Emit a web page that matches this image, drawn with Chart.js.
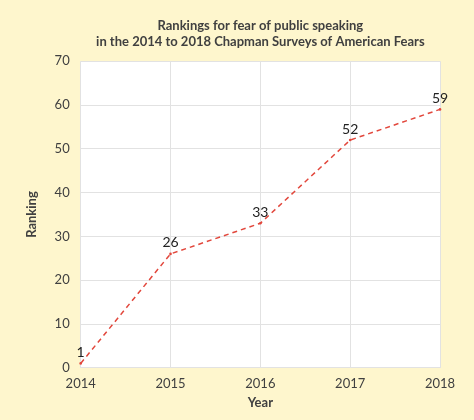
<!DOCTYPE html>
<html><head><meta charset="utf-8">
<script src="https://cdn.jsdelivr.net/npm/chart.js@4/dist/chart.umd.min.js"></script>
<style>html,body{margin:0;padding:0;background:#FEF6CD;}#wrap{width:474px;height:420px;}</style>
</head><body><div id="wrap"><canvas id="c" width="474" height="420"></canvas></div>
<script>
const years = ['2014','2015','2016','2017','2018'];
const rankings = [1, 26, 33, 52, 59];
const yTicks = [0,10,20,30,40,50,60,70];
const titleLines = ['Rankings for fear of public speaking','in the 2014 to 2018 Chapman Surveys of American Fears'];

const bgPlugin = {
  id:'bg',
  beforeDraw(chart){
    const {ctx, chartArea:a} = chart;
    ctx.save();
    ctx.fillStyle='#FEF6CD';
    ctx.fillRect(0,0,chart.width,chart.height);
    ctx.fillStyle='#FFFFFF';
    ctx.fillRect(a.left,a.top,a.right-a.left,a.bottom-a.top);
    ctx.restore();
  }
};
const labelPlugin = {
  id:'labels',
  afterDatasetsDraw(chart){
    const {ctx} = chart;
    const meta = chart.getDatasetMeta(0);
    ctx.save();
    ctx.font='14px Lato';
    ctx.fillStyle='#222222';
    ctx.textAlign='center';
    ctx.textBaseline='bottom';
    meta.data.forEach((p,i)=>{
      ctx.fillText(String(rankings[i]), p.x, p.y-4);
    });
    ctx.restore();
  }
};
Chart.defaults.font.family='Lato';
Chart.defaults.color='#404040';
new Chart(document.getElementById('c'),{
  type:'line',
  data:{labels:years,datasets:[{data:rankings,borderColor:'#E2473C',borderWidth:1.5,borderDash:[5,4],
    pointRadius:1.3,pointBackgroundColor:'#E2473C',pointBorderWidth:0,fill:false,tension:0}]},
  options:{
    responsive:false,animation:false,
    layout:{padding:{left:24,right:34,top:14,bottom:9}},
    plugins:{legend:{display:false},tooltip:{enabled:false},
      title:{display:true,text:titleLines,fullSize:false,color:'#404040',font:{size:13,weight:'bold'},padding:{top:4,bottom:12},lineHeight:1.4}},
    scales:{
      x:{offset:false,grid:{color:'#e2e2e2',drawTicks:false},border:{display:false},
        ticks:{font:{size:13},color:'#404040',padding:8},
        title:{display:true,text:'Year',font:{size:13,weight:'bold'},color:'#404040',padding:{top:-4,bottom:0}}},
      y:{min:0,max:70,afterBuildTicks(s){s.ticks=yTicks.map(v=>({value:v}));},
        grid:{color:'#e2e2e2',drawTicks:false},border:{display:false},
        ticks:{font:{size:13},color:'#404040',padding:11},
        title:{display:true,text:'Ranking',font:{size:13,weight:'bold'},color:'#404040',padding:{top:0,bottom:4}}}
    }
  },
  plugins:[bgPlugin,labelPlugin]
});
</script></body></html>
